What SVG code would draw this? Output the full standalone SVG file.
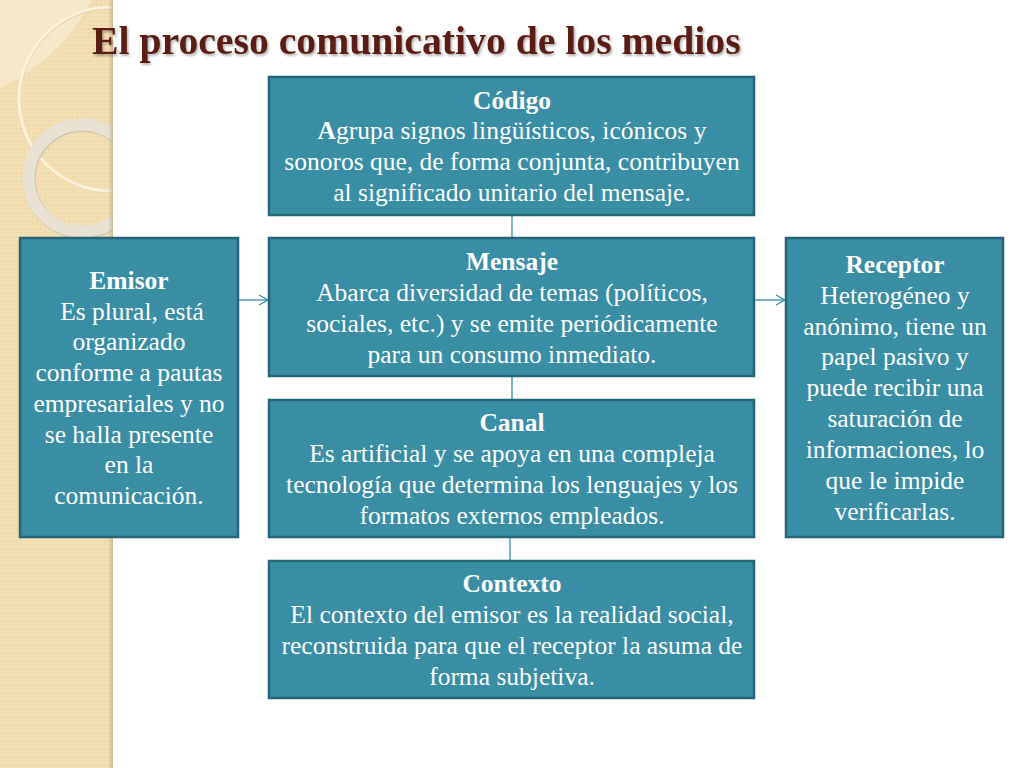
<svg xmlns="http://www.w3.org/2000/svg" width="1024" height="768" viewBox="0 0 1024 768">
<defs>
<style>
.box{fill:#398ea6;stroke:#256579;stroke-width:2.5}
.t{font-family:"Liberation Serif","Times New Roman",serif;font-size:25.5px;fill:#ffffff;text-anchor:middle}
.b{font-weight:bold}
.conn{stroke:#3a8ea6;stroke-width:1.3;fill:none}
.title{font-family:"Liberation Serif","Times New Roman",serif;font-weight:bold;font-size:39.7px;fill:#5b1f12}
</style>
<pattern id="dots" width="4" height="4" patternUnits="userSpaceOnUse">
<rect width="4" height="4" fill="#f3dfb1"/>
<circle cx="1" cy="1" r="0.8" fill="#ead3a0"/>
</pattern>
<linearGradient id="shade" x1="0" x2="1" y1="0" y2="0">
<stop offset="0" stop-color="#c8b48a" stop-opacity="0"/>
<stop offset="1" stop-color="#b9a57f" stop-opacity="0.7"/>
</linearGradient>
<clipPath id="panel"><rect x="0" y="0" width="113" height="768"/></clipPath>
<filter id="ts" x="-5%" y="-20%" width="110%" height="150%">
<feDropShadow dx="1.5" dy="2" stdDeviation="1.2" flood-color="#000" flood-opacity="0.3"/>
</filter>
<marker id="arr" markerWidth="12" markerHeight="12" refX="10" refY="6" orient="auto" markerUnits="userSpaceOnUse">
<path d="M1,1 L10,6 L1,11" fill="none" stroke="#3a8ea6" stroke-width="1.3"/>
</marker>
</defs>
<rect width="1024" height="768" fill="#ffffff"/>
<g id="background">
<rect x="0" y="0" width="113" height="768" fill="url(#dots)"/>
<g clip-path="url(#panel)">
<path d="M0,0 H92 Q60,60 0,88 Z" fill="#f8ecd0" opacity="0.75"/>
<circle cx="111" cy="99" r="92" fill="none" stroke="#dcc796" stroke-width="1" transform="translate(1,1.5)"/>
<circle cx="111" cy="99" r="92" fill="none" stroke="#fbf2d9" stroke-width="3"/>
<circle cx="82" cy="178" r="53.5" fill="none" stroke="#d2c7b2" stroke-width="13" transform="translate(0.8,1)"/>
<circle cx="82" cy="178" r="53.5" fill="none" stroke="#e9e2d3" stroke-width="12"/>
</g>
<rect x="108" y="0" width="5" height="768" fill="url(#shade)"/>
</g>
<text class="title" x="92" y="54" filter="url(#ts)">El proceso comunicativo de los medios</text>
<g id="connectors">
<line class="conn" x1="512" y1="215" x2="512" y2="238"/>
<line class="conn" x1="512" y1="376" x2="512" y2="400"/>
<line class="conn" x1="510" y1="537" x2="510" y2="561"/>
<line class="conn" x1="239" y1="300" x2="268" y2="300" marker-end="url(#arr)"/>
<line class="conn" x1="755" y1="300" x2="785" y2="300" marker-end="url(#arr)"/>
</g>
<g id="codigo">
<rect class="box" x="269" y="77" width="485" height="138"/>
<text class="t b" x="512" y="109">Código</text>
<text class="t" x="512" y="139"><tspan class="b">A</tspan>grupa signos lingüísticos, icónicos y</text>
<text class="t" x="512" y="170">sonoros que, de forma conjunta, contribuyen</text>
<text class="t" x="512" y="201">al significado unitario del mensaje.</text>
</g>
<g id="emisor">
<rect class="box" x="20" y="238" width="218" height="299"/>
<text class="t b" x="129" y="289">Emisor</text>
<text class="t" x="132" y="320">Es plural, está</text>
<text class="t" x="129" y="350">organizado</text>
<text class="t" x="129" y="381">conforme a pautas</text>
<text class="t" x="129" y="412">empresariales y no</text>
<text class="t" x="129" y="443">se halla presente</text>
<text class="t" x="129" y="473">en la</text>
<text class="t" x="129" y="504">comunicación.</text>
</g>
<g id="mensaje">
<rect class="box" x="269" y="238" width="485" height="138"/>
<text class="t b" x="512" y="270">Mensaje</text>
<text class="t" x="512" y="301">Abarca diversidad de temas (políticos,</text>
<text class="t" x="512" y="332">sociales, etc.) y se emite periódicamente</text>
<text class="t" x="512" y="363">para un consumo inmediato.</text>
</g>
<g id="receptor">
<rect class="box" x="786" y="238" width="217" height="299"/>
<text class="t b" x="895" y="273">Receptor</text>
<text class="t" x="895" y="304">Heterogéneo y</text>
<text class="t" x="895" y="335">anónimo, tiene un</text>
<text class="t" x="895" y="365">papel pasivo y</text>
<text class="t" x="895" y="396">puede recibir una</text>
<text class="t" x="895" y="427">saturación de</text>
<text class="t" x="895" y="458">informaciones, lo</text>
<text class="t" x="895" y="489">que le impide</text>
<text class="t" x="895" y="520">verificarlas.</text>
</g>
<g id="canal">
<rect class="box" x="269" y="400" width="485" height="137"/>
<text class="t b" x="512" y="431">Canal</text>
<text class="t" x="512" y="462">Es artificial y se apoya en una compleja</text>
<text class="t" x="512" y="493">tecnología que determina los lenguajes y los</text>
<text class="t" x="512" y="524">formatos externos empleados.</text>
</g>
<g id="contexto">
<rect class="box" x="269" y="561" width="485" height="137"/>
<text class="t b" x="512" y="592">Contexto</text>
<text class="t" x="512" y="623">El contexto del emisor es la realidad social,</text>
<text class="t" x="512" y="654">reconstruida para que el receptor la asuma de</text>
<text class="t" x="512" y="685">forma subjetiva.</text>
</g>
</svg>
